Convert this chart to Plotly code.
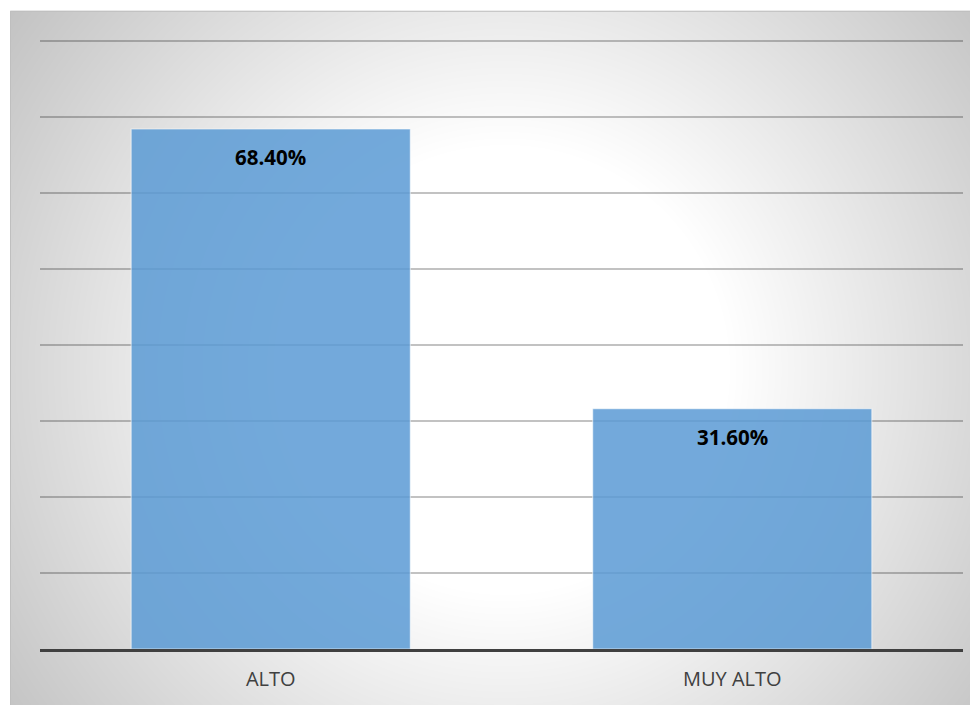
import base64
import struct
import zlib

import numpy as np
import plotly.graph_objects as go

# ---------------- data ----------------
categories = ["ALTO", "MUY ALTO"]
values = [68.4, 31.6]
value_labels = ["68.40%", "31.60%"]
y_ticks = [0, 10, 20, 30, 40, 50, 60, 70, 80]

# ---------------- layout constants ----------------
OFF = 8                      # page body margin
W, H = 978 - OFF, 705 - OFF  # figure size
Y_MAX = 80.5
PX_PER_UNIT = 7.6
BASE_Y = 649 - OFF           # baseline in figure px
M_L, M_R = 40 - OFF, 978 - 963
PLOT_H = Y_MAX * PX_PER_UNIT
M_T = BASE_Y - PLOT_H
M_B = H - BASE_Y
PLOT_W = W - M_L - M_R

# chart-area (Excel style) box in figure pixels
CA_X0, CA_X1, CA_Y0, CA_Y1 = 10 - OFF, W, 11 - OFF, H


def px_to_paper_x(px):
    return (px - M_L) / PLOT_W


def px_to_paper_y(py):
    return (BASE_Y - py) / PLOT_H


# ---------------- radial gradient background (png) ----------------
def make_png(arr):
    h, w, _ = arr.shape
    raw = b"".join(b"\x00" + arr[r].tobytes() for r in range(h))

    def chunk(tag, data):
        c = struct.pack(">I", len(data)) + tag + data
        return c + struct.pack(">I", zlib.crc32(tag + data) & 0xFFFFFFFF)

    ihdr = struct.pack(">IIBBBBB", w, h, 8, 2, 0, 0, 0)
    return (b"\x89PNG\r\n\x1a\n" + chunk(b"IHDR", ihdr)
            + chunk(b"IDAT", zlib.compress(raw, 9)) + chunk(b"IEND", b""))


gw, gh = int(CA_X1 - CA_X0), int(CA_Y1 - CA_Y0)
xs = np.arange(gw) + CA_X0 + OFF + 0.5
ys = np.arange(gh) + CA_Y0 + OFF + 0.5
XX, YY = np.meshgrid(xs, ys)
dist = np.sqrt((XX - 505.0) ** 2 + (YY - 370.0) ** 2)
shade = 255.0 - 0.155 * np.clip(dist - 225.0, 0, None)
shade = np.clip(shade, 195, 255).astype(np.uint8)
img = np.dstack([shade, shade, shade])
png_uri = "data:image/png;base64," + base64.b64encode(make_png(img)).decode()

# ---------------- figure ----------------
fig = go.Figure()
fig.add_trace(go.Bar(
    x=categories,
    y=values,
    width=0.605,
    marker=dict(color="#5B9BD5", opacity=0.85,
                line=dict(color="rgba(255,255,255,0.6)", width=1.2)),
    hoverinfo="x+y",
))

for cat, val, lab in zip(categories, values, value_labels):
    fig.add_annotation(
        x=cat, y=val, text=f"<b>{lab}</b>", showarrow=False,
        yanchor="middle", yshift=-28,
        font=dict(family="Open Sans", size=20.5, color="#000000"),
    )

fig.add_layout_image(dict(
    source=png_uri, xref="paper", yref="paper",
    x=px_to_paper_x(CA_X0), y=px_to_paper_y(CA_Y0),
    sizex=(CA_X1 - CA_X0) / PLOT_W, sizey=(CA_Y1 - CA_Y0) / PLOT_H,
    sizing="stretch", xanchor="left", yanchor="top", layer="below",
))

fig.add_shape(
    type="rect", xref="paper", yref="paper", layer="below",
    x0=px_to_paper_x(CA_X0 + 0.5), x1=px_to_paper_x(CA_X1 + 2),
    y0=px_to_paper_y(CA_Y1 + 2), y1=px_to_paper_y(CA_Y0 + 0.5),
    line=dict(color="#BFBFBF", width=1), fillcolor="rgba(0,0,0,0)",
)

fig.update_layout(
    width=W, height=H,
    margin=dict(l=M_L, r=M_R, t=M_T, b=M_B, pad=0),
    paper_bgcolor="white",
    plot_bgcolor="rgba(0,0,0,0)",
    showlegend=False,
    font=dict(family="Open Sans", color="#404040"),
    xaxis=dict(
        showline=True, linecolor="#404040", linewidth=3,
        showgrid=False, zeroline=False, ticks="",
        tickfont=dict(family="Open Sans", size=20, color="#404040"),
        ticklabelstandoff=10,
    ),
    yaxis=dict(
        range=[0, Y_MAX], tickvals=y_ticks, showticklabels=False,
        showgrid=True, gridcolor="rgba(0,0,0,0.24)", gridwidth=2,
        zeroline=False, showline=False, ticks="",
    ),
)

fig.write_html("out.html")
